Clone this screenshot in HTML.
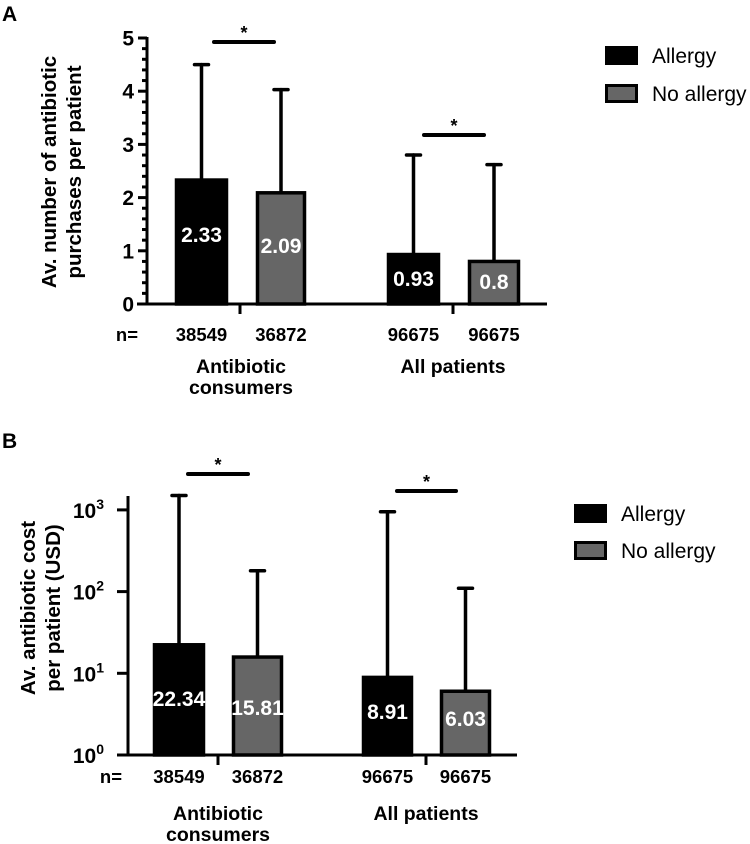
<!DOCTYPE html>
<html><head><meta charset="utf-8"><style>
body{margin:0;background:#fff;width:750px;height:844px;overflow:hidden}
svg{display:block}
text{font-family:"Liberation Sans",Arial,sans-serif;font-weight:bold}
text.norm{font-weight:normal}
</style></head><body>
<svg id="fig" width="750" height="844" viewBox="0 0 750 844"></svg>
<script>
const groupsA = ["Antibiotic consumers", "All patients"];
const meansA = [2.33, 2.09, 0.93, 0.8];
const errA = [4.5, 4.03, 2.8, 2.62];
const labelsA = ["2.33", "2.09", "0.93", "0.8"];
const nA = ["38549", "36872", "96675", "96675"];
const ticksA = [0, 1, 2, 3, 4, 5];
const meansB = [22.34, 15.81, 8.91, 6.03];
const errB = [1500, 180, 950, 110];
const labelsB = ["22.34", "15.81", "8.91", "6.03"];
const nB = ["38549", "36872", "96675", "96675"];
const ticksB = [0, 1, 2, 3];
const series = ["Allergy", "No allergy"];

const NS = "http://www.w3.org/2000/svg";
const svg = document.getElementById("fig");
function mk(tag, attrs, parent, txt) {
  const e = document.createElementNS(NS, tag);
  for (const k in attrs) e.setAttribute(k, attrs[k]);
  if (txt !== undefined) e.textContent = txt;
  (parent || svg).appendChild(e);
  return e;
}

function panel(cfg) {
  const g = mk("g", {});
  
  
  const t = mk("text", {x: cfg.letterX, y: cfg.letterY, "font-size": 21}, g, cfg.letter);
  
  
  const y = cfg.y;
  const bx = [[cfg.bars[0], cfg.bars[1]], [cfg.bars[2], cfg.bars[3]], [cfg.bars[4], cfg.bars[5]], [cfg.bars[6], cfg.bars[7]]];
  for (let i = 0; i < 4; i++) {
    const cx = (bx[i][0] + bx[i][1]) / 2;
    const e = mk("g", {stroke: "#000", "stroke-width": 3.5, "stroke-linecap": "round"}, g);
    
    
    mk("line", {x1: cx, x2: cx, y1: y(cfg.means[i]), y2: y(cfg.errs[i])}, e);
    mk("line", {x1: cx - 7, x2: cx + 7, y1: y(cfg.errs[i]), y2: y(cfg.errs[i])}, e);
  }
  for (let i = 0; i < 4; i++) {
    const top = y(cfg.means[i]);
    const grey = i % 2 === 1;
    const r = mk("rect", {x: bx[i][0] + 1.5, y: top, width: bx[i][1] - bx[i][0] - 3, height: cfg.base - top,
      fill: grey ? "#666" : "#000", stroke: "#000", "stroke-width": 3.5}, g);
    
    
    const lb = mk("text", {x: (bx[i][0] + bx[i][1]) / 2, y: cfg.labelY[i], "text-anchor": "middle", "font-size": 21, fill: "#fff"}, g, cfg.labels[i]);
    
    
    const nl = mk("text", {x: (bx[i][0] + bx[i][1]) / 2, y: cfg.nY, "text-anchor": "middle", "font-size": 18.5}, g, cfg.n[i]);
    
    
  }
  const nlab = mk("text", {x: cfg.nLabX, y: cfg.nY, "text-anchor": "end", "font-size": 18.5}, g, "n=");
  
  
  const ax = mk("g", {stroke: "#000", "stroke-width": 3}, g);
  
  
  mk("line", {x1: cfg.axX, x2: cfg.axX, y1: cfg.axTop, y2: cfg.base + 1.5}, ax);
  mk("line", {x1: cfg.axX - 10, x2: cfg.axEnd, y1: cfg.base, y2: cfg.base}, ax);
  mk("line", {x1: cfg.gt[0], x2: cfg.gt[0], y1: cfg.base, y2: cfg.base + 10}, ax);
  mk("line", {x1: cfg.gt[1], x2: cfg.gt[1], y1: cfg.base, y2: cfg.base + 10}, ax);
  cfg.ticks(ax, g);
  for (let k = 0; k < 2; k++) {
    const s = cfg.sig[k];
    const sl = mk("line", {x1: s[0], x2: s[1], y1: s[2], y2: s[2], stroke: "#000", "stroke-width": 4, "stroke-linecap": "round"}, g);
    
    
    const st = mk("text", {x: (s[0] + s[1]) / 2, y: s[2] - 3, "text-anchor": "middle", "font-size": 18}, g, "*");
    
    
  }
  for (const l of cfg.groupLabels) {
    const tx = mk("text", {x: l[0], y: l[1], "text-anchor": "middle", "font-size": 19.5}, g, l[2]);
    
    
  }
  const yt = mk("text", {transform: "translate(" + cfg.yTitle[0] + "," + cfg.yTitle[1] + ") rotate(-90)", "text-anchor": "middle", "font-size": 20.5}, g);
  
  
  mk("tspan", {x: 0, dy: 0}, yt, cfg.yTitle[2]);
  mk("tspan", {x: 0, dy: 25}, yt, cfg.yTitle[3]);
  const lg = mk("g", {}, g);
  
  
  for (let k = 0; k < 2; k++) {
    const ly = cfg.leg[1 + k];
    const r = mk("rect", {x: cfg.leg[0] + 1.5, y: ly + 1.5, width: 30, height: 16, fill: k ? "#666" : "#000", stroke: "#000", "stroke-width": 3}, lg);
    
    
    const tx = mk("text", {x: cfg.leg[0] + 47, y: ly + 17, "font-size": 21, "class": "norm"}, lg, series[k]);
    
    
  }
}

const baseA = 304, pxA = 53.2;
panel({
  name: "panel-a", letter: "A", letterX: 2, letterY: 21,
  y: v => baseA - v * pxA, base: baseA, means: meansA, errs: errA, labels: labelsA, n: nA,
  bars: [175, 228, 256, 306, 387, 440, 468, 520],
  labelY: [242, 253, 286, 289], nY: 341, nLabX: 138,
  axX: 147, axTop: 37, axEnd: 547, gt: [240, 453],
  ticks: (ax, g) => {
    for (let i = 0; i <= 25; i++) {
      const yy = baseA - i * 0.2 * pxA;
      mk("line", {x1: i % 5 === 0 ? 138 : 142, x2: 147, y1: yy, y2: yy}, ax);
    }
    for (const t of ticksA) {
      const tl = mk("text", {x: 134, y: baseA - t * pxA + 7.5, "text-anchor": "end", "font-size": 21}, g, String(t));
      
      
    }
  },
  sig: [[214, 274, 42], [424, 484, 135]],
  groupLabels: [[241, 373, "Antibiotic"], [241, 394, "consumers"], [453, 373, "All patients"]],
  yTitle: [56, 172, "Av. number of antibiotic", "purchases per patient"],
  leg: [605, 46, 84]
});

const baseB = 755, pxB = 81.7;
panel({
  name: "panel-b", letter: "B", letterX: 2, letterY: 448,
  y: v => baseB - Math.log10(v) * pxB, base: baseB, means: meansB, errs: errB, labels: labelsB, n: nB,
  bars: [153, 205, 232, 283, 362, 413, 440, 491],
  labelY: [706, 715, 719, 726], nY: 783, nLabX: 122,
  axX: 128, axTop: 496, axEnd: 517, gt: [218, 426],
  ticks: (ax, g) => {
    for (const t of ticksB) {
      const yy = baseB - t * pxB;
      mk("line", {x1: 117, x2: 128, y1: yy, y2: yy}, ax);
      const tl = mk("text", {x: 104, y: yy + 8, "text-anchor": "end", "font-size": 21}, g);
      
      
      mk("tspan", {}, tl, "10");
      mk("tspan", {dy: -9, "font-size": 14}, tl, String(t));
    }
  },
  sig: [[188, 248, 474], [397, 456, 491]],
  groupLabels: [[218, 820, "Antibiotic"], [218, 841, "consumers"], [426, 820, "All patients"]],
  yTitle: [35, 608, "Av. antibiotic cost", "per patient (USD)"],
  leg: [574, 504, 541]
});
</script>
</body></html>
